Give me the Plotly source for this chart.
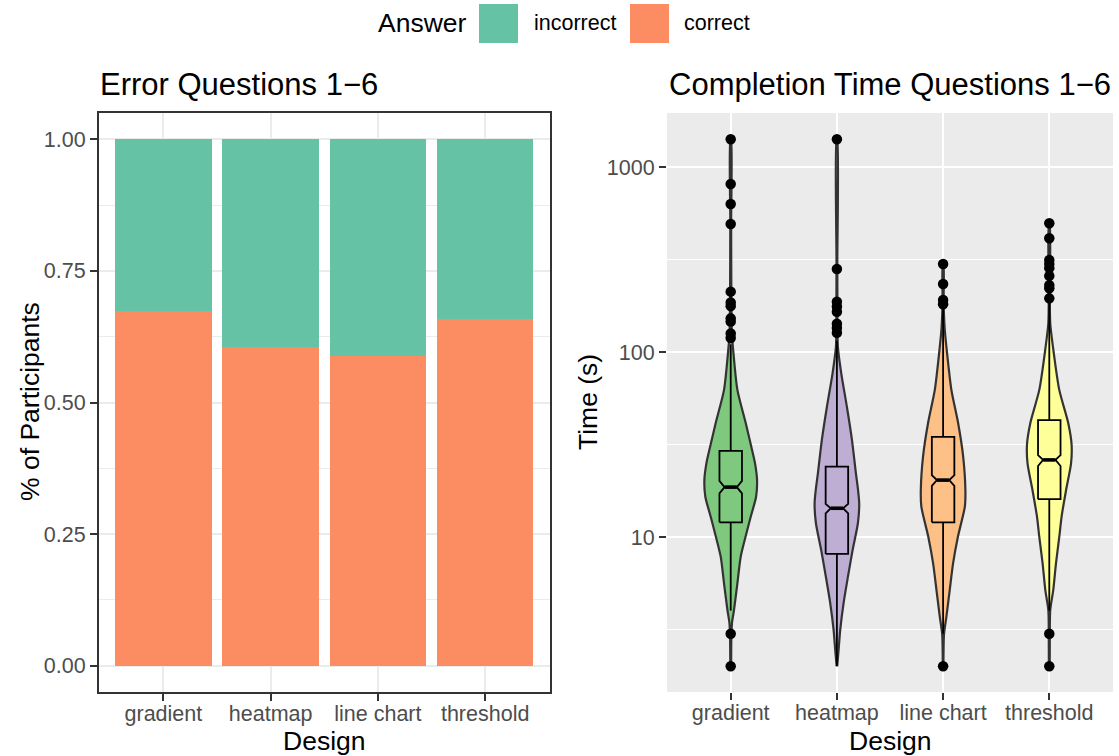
import plotly.graph_objects as go

# ---------------- data ----------------
designs = ["gradient", "heatmap", "line chart", "threshold"]

# Left panel: share of participants per answer
correct = [0.673, 0.605, 0.589, 0.658]
incorrect = [0.327, 0.395, 0.411, 0.342]

# Right panel: box statistics (seconds)
q1 = [12.0, 8.1, 12.0, 16.0]
median = [18.6, 14.3, 20.3, 26.1]
q3 = [29.2, 24.0, 34.8, 42.8]
notch_low = [17.2, 13.4, 18.9, 24.2]
notch_high = [20.1, 15.1, 21.6, 27.7]
lower_whisker = [4.0, 2.0, 3.0, 4.0]
upper_whisker = [110, 115, 170, 185]

# Outliers (seconds)
out_gradient = [1412, 809, 631, 492, 212, 185, 177, 152, 146, 126, 119, 3, 2]
out_heatmap = [1412, 281, 187, 176, 165, 142, 135, 127]
out_linechart = [299, 233, 191, 181, 2]
out_threshold = [497, 412, 314, 299, 284, 258, 230, 221, 195, 3, 2]

# Violin outlines: time levels (s) and half-widths (fraction of category)
vt_gradient = [2, 2.82, 3.43, 4.03, 5.62, 7.82, 10, 12.9, 16.5, 20.3, 25.0, 31.6, 41.2, 62.4, 100, 126, 200, 501, 1413]
vw_gradient = [0.004, 0.006, 0.012, 0.031, 0.063, 0.094, 0.139, 0.189, 0.239, 0.248, 0.229, 0.189, 0.142, 0.063, 0.025, 0.011, 0.006, 0.004, 0.003]
vt_heatmap = [2, 2.45, 3.14, 4.39, 6.1, 8.5, 11.9, 15.2, 18.2, 22.1, 33.4, 50.6, 76.7, 107, 158, 316, 1413]
vw_heatmap = [0.003, 0.016, 0.031, 0.063, 0.104, 0.148, 0.198, 0.210, 0.198, 0.179, 0.142, 0.094, 0.041, 0.009, 0.005, 0.004, 0.003]
vt_linechart = [2, 3.0, 3.7, 5.2, 7.2, 10, 14.6, 17.9, 27.2, 41.2, 62.4, 94.4, 131.5, 183, 300]
vw_linechart = [0.003, 0.009, 0.031, 0.063, 0.094, 0.139, 0.205, 0.210, 0.189, 0.142, 0.078, 0.041, 0.016, 0.005, 0.003]
vt_threshold = [2, 3.16, 4.03, 5.2, 7.2, 10, 12.9, 17.9, 25.0, 31.6, 41.2, 62.4, 100, 143, 191, 500]
vw_threshold = [0.004, 0.005, 0.009, 0.038, 0.063, 0.094, 0.116, 0.158, 0.205, 0.210, 0.179, 0.094, 0.041, 0.009, 0.005, 0.003]

violin_colors = ["#7fc97f", "#beaed4", "#fdc086", "#ffff99"]
answer_colors = {"incorrect": "#66c2a5", "correct": "#fc8d62"}

# ---------------- figure ----------------
W, H = 1119, 756
FONT = "Liberation Sans, Arial, Helvetica, sans-serif"
TICK_SIZE = 21.5
TITLE_SIZE = 26.5
HEAD_SIZE = 31
BOX_HW = 0.106      # half box width (category units)
NOTCH_HW = 0.058    # half width at the notch


def fx(x):
    return x / W


def fy(y):
    return 1 - y / H


fig = go.Figure()

pos = list(range(len(designs)))

fig.add_trace(go.Bar(x=pos, y=correct, width=0.9, name="correct",
                     marker=dict(color=answer_colors["correct"], line=dict(width=0)),
                     xaxis="x", yaxis="y", showlegend=False))
fig.add_trace(go.Bar(x=pos, y=incorrect, width=0.9, name="incorrect",
                     marker=dict(color=answer_colors["incorrect"], line=dict(width=0)),
                     xaxis="x", yaxis="y", showlegend=False))

violins = [(vt_gradient, vw_gradient), (vt_heatmap, vw_heatmap),
           (vt_linechart, vw_linechart), (vt_threshold, vw_threshold)]
outs = [out_gradient, out_heatmap, out_linechart, out_threshold]

for i, (vt, vw) in enumerate(violins):
    xs = [i + w for w in vw] + [i - w for w in reversed(vw)]
    ys = list(vt) + list(reversed(vt))
    fig.add_trace(go.Scatter(x=xs, y=ys, mode="lines", fill="toself",
                             fillcolor=violin_colors[i],
                             line=dict(color="#333333", width=2.2, shape="spline", smoothing=0.7),
                             xaxis="x2", yaxis="y2", showlegend=False, hoverinfo="skip"))

# whiskers
for i in range(len(designs)):
    fig.add_trace(go.Scatter(x=[i, i, None, i, i],
                             y=[q3[i], upper_whisker[i], None, q1[i], lower_whisker[i]],
                             mode="lines", line=dict(color="black", width=1.8),
                             xaxis="x2", yaxis="y2", showlegend=False, hoverinfo="skip"))

# notched boxes
for i in range(len(designs)):
    l, r = i - BOX_HW, i + BOX_HW
    nl, nr = i - NOTCH_HW, i + NOTCH_HW
    bx = [l, l, nl, l, l, r, r, nr, r, r, l]
    by = [q1[i], notch_low[i], median[i], notch_high[i], q3[i], q3[i],
          notch_high[i], median[i], notch_low[i], q1[i], q1[i]]
    fig.add_trace(go.Scatter(x=bx, y=by, mode="lines", fill="toself",
                             fillcolor=violin_colors[i],
                             line=dict(color="black", width=1.8),
                             xaxis="x2", yaxis="y2", showlegend=False, hoverinfo="skip"))
    fig.add_trace(go.Scatter(x=[nl, nr], y=[median[i], median[i]], mode="lines",
                             line=dict(color="black", width=3.6),
                             xaxis="x2", yaxis="y2", showlegend=False, hoverinfo="skip"))

for i, o in enumerate(outs):
    fig.add_trace(go.Scatter(x=[i] * len(o), y=o, mode="markers",
                             marker=dict(color="black", size=10.5),
                             xaxis="x2", yaxis="y2", showlegend=False))

tickfont = dict(family=FONT, size=TICK_SIZE, color="#4d4d4d")
y_dom = [fy(692), fy(113)]

fig.update_layout(
    width=W, height=H,
    margin=dict(l=0, r=0, t=0, b=0),
    paper_bgcolor="white", plot_bgcolor="white",
    barmode="stack",
    font=dict(family=FONT, color="black"),
    xaxis=dict(domain=[fx(99), fx(549.5)], anchor="y", range=[-0.6, 3.6],
               tickmode="array", tickvals=pos, ticktext=designs,
               ticks="outside", ticklen=7, tickwidth=2, tickcolor="#333333",
               tickfont=tickfont, ticklabelstandoff=-6,
               showgrid=True, gridcolor="#ebebeb", gridwidth=2,
               showline=True, mirror=True, linecolor="#333333", linewidth=2,
               zeroline=False, fixedrange=True),
    yaxis=dict(domain=y_dom, anchor="x", range=[-0.05, 1.05],
               tickmode="array", tickvals=[0, 0.25, 0.5, 0.75, 1.0],
               ticktext=["0.00", "0.25", "0.50", "0.75", "1.00"],
               ticks="outside", ticklen=7, tickwidth=2, tickcolor="#333333",
               tickfont=tickfont, showgrid=True, gridcolor="#ebebeb", gridwidth=2,
               minor=dict(tickmode="array", tickvals=[0.125, 0.375, 0.625, 0.875],
                          showgrid=True, gridcolor="#ebebeb", gridwidth=1, ticks=""),
               showline=True, mirror=True, linecolor="#333333", linewidth=2,
               zeroline=False, fixedrange=True),
    xaxis2=dict(domain=[fx(667), fx(1113)], anchor="y2", range=[-0.6, 3.6],
                tickmode="array", tickvals=pos, ticktext=designs,
                ticks="outside", ticklen=7, tickwidth=2, tickcolor="#333333",
                tickfont=tickfont, ticklabelstandoff=-6,
                showgrid=True, gridcolor="white", gridwidth=2,
                showline=False, zeroline=False, fixedrange=True),
    yaxis2=dict(domain=y_dom, anchor="x2", type="log", range=[0.162, 3.292],
                tickmode="array", tickvals=[10, 100, 1000], ticktext=["10", "100", "1000"],
                ticks="outside", ticklen=7, tickwidth=2, tickcolor="#333333",
                tickfont=tickfont, showgrid=True, gridcolor="white", gridwidth=2,
                minor=dict(tickmode="array", tickvals=[3.1623, 31.623, 316.23],
                           showgrid=True, gridcolor="white", gridwidth=1, ticks=""),
                showline=False, zeroline=False, fixedrange=True),
)

shapes = [
    dict(type="rect", xref="x2 domain", yref="y2 domain", x0=0, x1=1, y0=0, y1=1,
         fillcolor="#ebebeb", line=dict(width=0), layer="below"),
    # legend keys
    dict(type="rect", xref="paper", yref="paper", x0=fx(479), x1=fx(518), y0=fy(43), y1=fy(4),
         fillcolor=answer_colors["incorrect"], line=dict(width=0)),
    dict(type="rect", xref="paper", yref="paper", x0=fx(630), x1=fx(669), y0=fy(43), y1=fy(4),
         fillcolor=answer_colors["correct"], line=dict(width=0)),
]
fig.update_layout(shapes=shapes)


def ann(text, x, y, size, xanchor="center", angle=0, color="black"):
    return dict(text=text, x=fx(x), y=fy(y), xref="paper", yref="paper",
                xanchor=xanchor, yanchor="middle", showarrow=False, textangle=angle,
                font=dict(family=FONT, size=size, color=color))


annotations = [
    ann("Answer", 376, 23, TITLE_SIZE, xanchor="left"),
    ann("incorrect", 532, 23, TICK_SIZE, xanchor="left"),
    ann("correct", 682, 23, TICK_SIZE, xanchor="left"),
    ann("Error Questions 1\u22126", 98, 84, HEAD_SIZE, xanchor="left"),
    ann("Completion Time Questions 1\u22126", 667, 84, HEAD_SIZE, xanchor="left"),
    ann("% of Participants", 30, 402, TITLE_SIZE, angle=-90),
    ann("Time (s)", 588, 402, TITLE_SIZE, angle=-90),
    ann("Design", 324, 741, TITLE_SIZE),
    ann("Design", 890, 741, TITLE_SIZE),
]
fig.update_layout(annotations=annotations)

fig.write_html("out.html",
               config={"displayModeBar": False},
               post_script="document.body.style.margin='0';document.body.style.padding='0';")
